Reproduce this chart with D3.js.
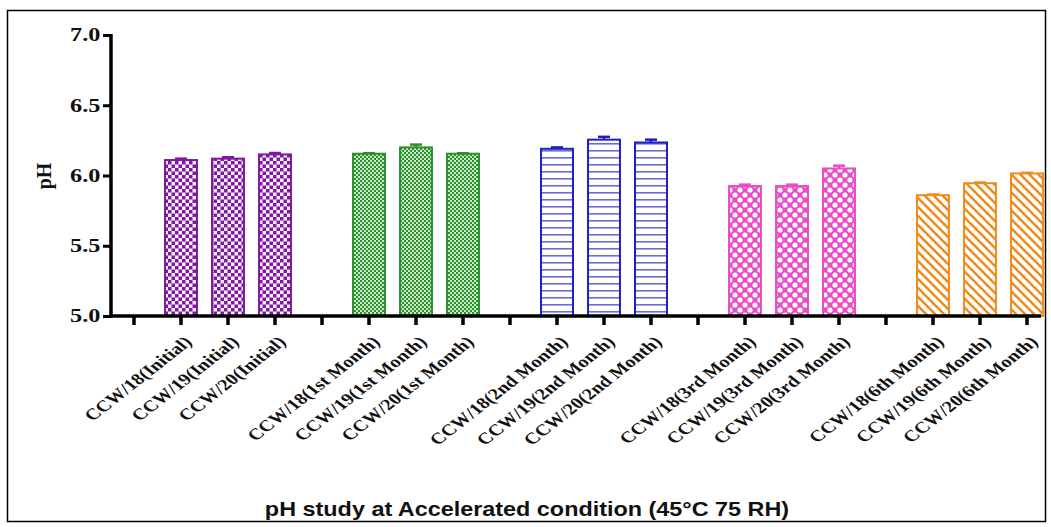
<!DOCTYPE html>
<html>
<head>
<meta charset="utf-8">
<script src="https://cdn.jsdelivr.net/npm/d3@7"></script>
<style>
  html, body { margin: 0; padding: 0; background: #fff; }
  svg { display: block; }
</style>
</head>
<body>
<svg id="chart" width="1051" height="527"></svg>
<script>
// Stability groups (time points) and samples within each group
const groups = ["Initial", "1st Month", "2nd Month", "3rd Month", "6th Month"];
const samples = ["CCW/18", "CCW/19", "CCW/20"];
const groupLabels = ["Initial", "1st Month", "2nd Month", "3rd Month", "6th Month"];

// Mean pH per group (one entry per sample)
const phInitial = [6.11, 6.12, 6.15];
const ph1st = [6.155, 6.20, 6.155];
const ph2nd = [6.19, 6.255, 6.235];
const ph3rd = [5.925, 5.925, 6.05];
const ph6th = [5.86, 5.945, 6.015];

// Standard deviation per group
const sdInitial = [0.01, 0.01, 0.01];
const sd1st = [0.004, 0.02, 0.003];
const sd2nd = [0.01, 0.02, 0.02];
const sd3rd = [0.01, 0.01, 0.02];
const sd6th = [0.005, 0.005, 0.004];

const yTicks = [5.0, 5.5, 6.0, 6.5, 7.0];
const groupColors = ["#7d1a9e", "#2b8f2b", "#1f1fc4", "#e84cc8", "#f08c1e"];

const means = [phInitial, ph1st, ph2nd, ph3rd, ph6th];
const sds = [sdInitial, sd1st, sd2nd, sd3rd, sd6th];

// Slots along the x axis: an empty slot before every group of three bars
const slots = [];
const rows = [];
groups.forEach((g, gi) => {
  slots.push("gap" + gi);
  samples.forEach((s, si) => {
    const label = s + "(" + groupLabels[gi] + ")";
    slots.push(label);
    rows.push({ label, group: gi, value: means[gi][si], sd: sds[gi][si] });
  });
});

const svg = d3.select("#chart");

// Outer frame
svg.append("rect")
  .attr("x", 7.5).attr("y", 10.5)
  .attr("width", 1038).attr("height", 511)
  .attr("fill", "none").attr("stroke", "#000").attr("stroke-width", 1.5);

const x = d3.scaleBand().domain(slots).range([110.5, 1050.5]).padding(0);
const y = d3.scaleLinear().domain([5.0, 7.0]).range([316, 35]);

// Fill patterns, one per group
const defs = svg.append("defs");
function pat(id, w, h) {
  return defs.append("pattern").attr("id", id)
    .attr("patternUnits", "userSpaceOnUse").attr("width", w).attr("height", h);
}
// checkerboard
let p = pat("p0", 7, 7);
p.append("rect").attr("width", 7).attr("height", 7).attr("fill", "#fbeefe");
p.append("rect").attr("width", 3.5).attr("height", 3.5).attr("fill", groupColors[0]);
p.append("rect").attr("x", 3.5).attr("y", 3.5).attr("width", 3.5).attr("height", 3.5).attr("fill", groupColors[0]);
// fine checkerboard
p = pat("p1", 4, 4);
p.append("rect").attr("width", 4).attr("height", 4).attr("fill", "#c8e8c8");
p.append("rect").attr("width", 2).attr("height", 2).attr("fill", groupColors[1]);
p.append("rect").attr("x", 2).attr("y", 2).attr("width", 2).attr("height", 2).attr("fill", groupColors[1]);
// horizontal lines
p = pat("p2", 8, 7);
p.append("rect").attr("width", 8).attr("height", 7).attr("fill", "#fff");
p.append("rect").attr("y", 3).attr("width", 8).attr("height", 1.6).attr("fill", "#6a6ad8");
// crosshatch
p = pat("p3", 10, 10);
p.append("rect").attr("width", 10).attr("height", 10).attr("fill", groupColors[3]);
p.append("circle").attr("cx", 5).attr("cy", 5).attr("r", 2.6).attr("fill", "#fff");
p.append("circle").attr("cx", 0).attr("cy", 0).attr("r", 2.6).attr("fill", "#fff");
p.append("circle").attr("cx", 10).attr("cy", 0).attr("r", 2.6).attr("fill", "#fff");
p.append("circle").attr("cx", 0).attr("cy", 10).attr("r", 2.6).attr("fill", "#fff");
p.append("circle").attr("cx", 10).attr("cy", 10).attr("r", 2.6).attr("fill", "#fff");
// diagonal stripes
p = pat("p4", 9, 9);
p.append("rect").attr("width", 9).attr("height", 9).attr("fill", "#fff");
p.append("path").attr("d", "M-2,-2 L11,11 M-2,7 L2,11 M7,-2 L11,2")
  .attr("stroke", groupColors[4]).attr("stroke-width", 2.6);

const barW = x.bandwidth() * 0.68;

// Bars
svg.append("g").selectAll("rect").data(rows).join("rect")
  .attr("x", d => x(d.label) + (x.bandwidth() - barW) / 2)
  .attr("y", d => y(d.value))
  .attr("width", barW)
  .attr("height", d => y(5.0) - y(d.value))
  .attr("fill", d => "url(#p" + d.group + ")")
  .attr("stroke", d => groupColors[d.group])
  .attr("stroke-width", 2);

// Error bars (upper whisker with cap)
const eb = svg.append("g").selectAll("g").data(rows).join("g")
  .attr("stroke", d => groupColors[d.group]).attr("stroke-width", 2.5);
eb.append("line")
  .attr("x1", d => x(d.label) + x.bandwidth() / 2)
  .attr("x2", d => x(d.label) + x.bandwidth() / 2)
  .attr("y1", d => y(d.value))
  .attr("y2", d => y(d.value + d.sd));
eb.append("line")
  .attr("x1", d => x(d.label) + x.bandwidth() / 2 - 6)
  .attr("x2", d => x(d.label) + x.bandwidth() / 2 + 6)
  .attr("y1", d => y(d.value + d.sd))
  .attr("y2", d => y(d.value + d.sd));

// Y axis
const yAxis = svg.append("g").attr("transform", "translate(111,0)")
  .call(d3.axisLeft(y).tickValues(yTicks).tickFormat(d3.format(".1f")).tickSize(8).tickSizeOuter(0));
yAxis.select(".domain").attr("stroke-width", 3.5).attr("d", "M0," + (y(7.0) - 1) + "V" + (y(5.0) + 1.5));
yAxis.selectAll(".tick line").attr("stroke-width", 3);
yAxis.selectAll(".tick text")
  .attr("font-family", "Liberation Serif").attr("font-weight", "bold")
  .attr("font-size", 18).attr("fill", "#111")
  .attr("transform", "scale(1.35,1)")
  .attr("x", -7.8);

// X axis: labels slanted, widened horizontally
const xAxis = svg.append("g").attr("transform", "translate(0,316)")
  .call(d3.axisBottom(x).tickSize(9).tickSizeOuter(0).tickFormat(d => d.startsWith("gap") ? "" : d));
xAxis.select(".domain").attr("stroke-width", 3.5).attr("d", "M109.5,0H1041");
xAxis.selectAll(".tick line").attr("stroke-width", 3.5);
xAxis.selectAll(".tick text")
  .attr("font-family", "Liberation Serif").attr("font-weight", "bold")
  .attr("font-size", 16).attr("fill", "#111")
  .attr("text-anchor", "end")
  .attr("transform", "translate(12,27) scale(1.27,1) rotate(-45)")
  .attr("x", 0).attr("y", 0).attr("dy", 0);

// Axis titles
svg.append("text")
  .attr("transform", "translate(51,176) rotate(-90)")
  .attr("text-anchor", "middle")
  .attr("font-family", "Liberation Serif").attr("font-weight", "bold")
  .attr("font-size", 20).attr("fill", "#111").text("pH");

svg.append("text")
  .attr("transform", "translate(527,516) scale(1.17,1)")
  .attr("text-anchor", "middle")
  .attr("font-family", "Liberation Sans").attr("font-weight", "bold")
  .attr("font-size", 20).attr("fill", "#111")
  .text("pH study at Accelerated condition (45°C 75 RH)");
</script>
</body>
</html>
